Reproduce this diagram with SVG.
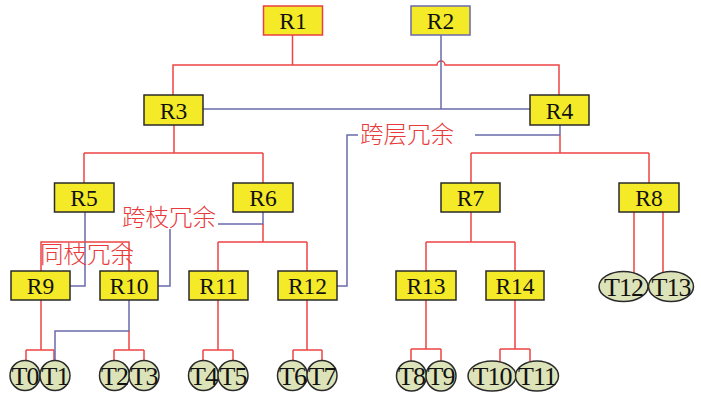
<svg xmlns="http://www.w3.org/2000/svg" width="701" height="395" viewBox="0 0 701 395">
<style>
.box{fill:#f4ea28;stroke:#2a2a2a;stroke-width:1.5}
.leaf{fill:#dde3b8;stroke:#2a2a2a;stroke-width:1.5}
.lbl{font-family:"Liberation Serif",serif;font-size:23.5px;fill:#111;text-anchor:middle;dominant-baseline:central}
.tl{font-family:"Liberation Serif",serif;font-size:26px;fill:#111;text-anchor:middle;dominant-baseline:central;letter-spacing:-1px}
.red{fill:none;stroke:#ee4444;stroke-width:1.5}
.blue{fill:none;stroke:#6a6aaa;stroke-width:1.5}
.cn{font-family:"Noto Sans CJK SC",sans-serif;font-size:23.5px;font-weight:300;fill:#e83a3a;dominant-baseline:central}
</style>
<rect width="701" height="395" fill="#fff"/>
<g id="connectors">
<path class="red" d="M292.5,35V65M173,95V65H437A4,4 0 0 1 445,65H559V95"/>
<path class="blue" d="M441,35V109M203,109H530"/>
<path class="red" d="M174,125V153M84,153H263M84,153V183M263,153V183"/>
<path class="blue" d="M560,125V135M475,135H560M358,135H347V286H337"/>
<path class="red" d="M560,135V153M471,153H649M471,153V183M649,153V183"/>
<path class="blue" d="M85,212V286H70"/>
<path class="red" d="M41,271V242H129V271"/>
<path class="blue" d="M263,212V224H218M158,286H170V229"/>
<path class="red" d="M263,224V242M218,242H307M218,242V271M307,242V271"/>
<path class="red" d="M471,212V242M426,242H515M426,242V271M515,242V271"/>
<path class="red" d="M634,212V273M663,212V273"/>
<path class="red" d="M41,300V350M26,350H54M26,350V361M54,350V361"/>
<path class="blue" d="M129,300V331H55V361"/>
<path class="red" d="M129,331V350M114,350H144M114,350V361M144,350V361"/>
<path class="red" d="M218,300V350M203,350H233M203,350V361M233,350V361"/>
<path class="red" d="M307,300V350M293,350H322M293,350V361M322,350V361"/>
<path class="red" d="M426,300V349M411,349H441M411,349V361M441,349V361"/>
<path class="red" d="M515,300V349M500,349H530M500,349V362M530,349V362"/>
</g>
<g id="R1"><rect class="box" x="263.5" y="6" width="59" height="29" style="stroke:#e84040"/><text class="lbl" x="293" y="21">R1</text></g>
<g id="R2"><rect class="box" x="411" y="6" width="59" height="29" style="stroke:#6a6aaa"/><text class="lbl" x="440.5" y="21">R2</text></g>
<g id="R3"><rect class="box" x="144" y="95" width="59" height="30"/><text class="lbl" x="173.5" y="110.5">R3</text></g>
<g id="R4"><rect class="box" x="530" y="95" width="59" height="30"/><text class="lbl" x="559.5" y="110.5">R4</text></g>
<g id="R5"><rect class="box" x="54.5" y="183" width="59.5" height="29"/><text class="lbl" x="84" y="198">R5</text></g>
<g id="R6"><rect class="box" x="233" y="183" width="60" height="29"/><text class="lbl" x="263" y="198">R6</text></g>
<g id="R7"><rect class="box" x="441" y="183" width="59" height="29"/><text class="lbl" x="470.5" y="198">R7</text></g>
<g id="R8"><rect class="box" x="619" y="183" width="60" height="29"/><text class="lbl" x="649" y="198">R8</text></g>
<g id="R9"><rect class="box" x="11" y="271" width="59" height="29"/><text class="lbl" x="40.5" y="286">R9</text></g>
<g id="R10"><rect class="box" x="100" y="271" width="58" height="29"/><text class="lbl" x="129" y="286">R10</text></g>
<g id="R11"><rect class="box" x="189" y="271" width="59" height="29"/><text class="lbl" x="218.5" y="286">R11</text></g>
<g id="R12"><rect class="box" x="278" y="271" width="59" height="29"/><text class="lbl" x="307.5" y="286">R12</text></g>
<g id="R13"><rect class="box" x="396" y="271" width="60" height="29"/><text class="lbl" x="426" y="286">R13</text></g>
<g id="R14"><rect class="box" x="486" y="271" width="58" height="29"/><text class="lbl" x="515" y="286">R14</text></g>
<g id="T0"><circle class="leaf" cx="25" cy="375.5" r="15"/><text class="tl" x="25" y="376">T0</text></g>
<g id="T1"><circle class="leaf" cx="55" cy="375.5" r="15"/><text class="tl" x="55" y="376">T1</text></g>
<g id="T2"><circle class="leaf" cx="114.5" cy="375.5" r="15"/><text class="tl" x="114.5" y="376">T2</text></g>
<g id="T3"><circle class="leaf" cx="144" cy="375.5" r="15"/><text class="tl" x="144" y="376">T3</text></g>
<g id="T4"><circle class="leaf" cx="203.5" cy="375.5" r="15"/><text class="tl" x="203.5" y="376">T4</text></g>
<g id="T5"><circle class="leaf" cx="233" cy="375.5" r="15"/><text class="tl" x="233" y="376">T5</text></g>
<g id="T6"><circle class="leaf" cx="292.5" cy="375.5" r="15"/><text class="tl" x="292.5" y="376">T6</text></g>
<g id="T7"><circle class="leaf" cx="322" cy="375.5" r="15"/><text class="tl" x="322" y="376">T7</text></g>
<g id="T8"><circle class="leaf" cx="411.5" cy="376" r="15"/><text class="tl" x="411.5" y="376.5">T8</text></g>
<g id="T9"><circle class="leaf" cx="441" cy="376" r="15"/><text class="tl" x="441" y="376.5">T9</text></g>
<g id="T10"><ellipse class="leaf" cx="492" cy="376" rx="24" ry="15"/><text class="tl" x="492" y="376.5">T10</text></g>
<g id="T11"><ellipse class="leaf" cx="537" cy="376" rx="21.5" ry="15"/><text class="tl" x="537" y="376.5">T11</text></g>
<g id="T12"><ellipse class="leaf" cx="623.5" cy="286.5" rx="24.5" ry="15"/><text class="tl" x="623.5" y="287">T12</text></g>
<g id="T13"><ellipse class="leaf" cx="671" cy="286.5" rx="22.5" ry="15"/><text class="tl" x="671" y="287">T13</text></g>
<g id="labels">
<text class="cn" x="122" y="216">跨枝冗余</text>
<text class="cn" x="40" y="253">同枝冗余</text>
<text class="cn" x="360" y="133">跨层冗余</text>
</g>
</svg>
